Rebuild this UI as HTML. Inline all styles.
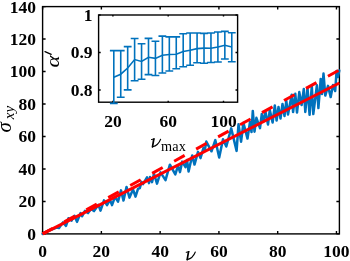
<!DOCTYPE html><html><head><meta charset="utf-8"><style>html,body{margin:0;padding:0;background:#fff;overflow:hidden}svg{display:block;will-change:transform}</style></head><body><svg width="350" height="261" viewBox="0 0 350 261"><rect width="350" height="261" fill="#fff"/><rect x="42.60" y="6.60" width="296.80" height="227.30" fill="none" stroke="#000" stroke-width="1.4"/><path d="M42.60,233.90v-3M42.60,6.60v3M101.37,233.90v-3M101.37,6.60v3M160.14,233.90v-3M160.14,6.60v3M218.92,233.90v-3M218.92,6.60v3M277.69,233.90v-3M277.69,6.60v3M336.46,233.90v-3M336.46,6.60v3M42.60,233.90h3M339.40,233.90h-3M42.60,201.43h3M339.40,201.43h-3M42.60,168.96h3M339.40,168.96h-3M42.60,136.48h3M339.40,136.48h-3M42.60,104.01h3M339.40,104.01h-3M42.60,71.54h3M339.40,71.54h-3M42.60,39.07h3M339.40,39.07h-3M42.60,6.60h3M339.40,6.60h-3" stroke="#000" stroke-width="1.4" fill="none"/><g><polyline points="42.60,233.90 45.00,232.50 48.00,230.70 51.00,229.80 54.00,228.70 56.50,227.50 59.00,228.10 63.00,222.40 66.00,225.90 68.50,218.20 71.50,220.60 74.50,215.80 77.00,221.90 80.50,213.10 82.00,216.30 85.00,210.90 88.00,213.10 91.00,208.90 94.00,211.10 98.40,204.90 100.50,210.60 104.00,200.40 107.00,205.10 110.00,199.90 112.00,205.10 115.00,196.90 118.00,201.60 121.00,190.40 123.50,200.60 126.50,186.90 129.50,197.60 133.00,189.40 135.50,196.60 138.00,188.90 139.80,188.10 141.50,181.90 143.00,184.10 147.00,177.40 149.00,183.10 150.00,176.90 152.00,182.10 154.00,173.90 157.00,183.60 160.50,172.40 165.50,180.10 169.90,164.70 175.30,174.40 178.00,165.90 180.00,172.10 182.20,161.60 185.50,167.10 187.00,159.90 188.60,171.60 192.20,155.40 194.50,164.60 198.00,151.90 200.50,158.10 203.50,147.90 205.00,149.10 206.30,141.60 211.50,151.30 215.30,140.10 219.20,157.50 223.00,139.30 226.30,146.50 231.20,128.40 236.60,150.90 238.50,124.30 241.10,141.70 243.40,122.80 247.50,138.60 250.00,121.90 251.50,132.10 252.80,110.90 254.50,131.70 256.40,117.80 260.00,128.10 261.80,113.90 263.40,121.60 265.50,111.90 268.00,124.60 269.80,109.90 272.60,122.50 274.80,105.50 276.60,120.60 278.50,106.90 280.50,118.60 282.50,103.90 284.50,116.10 286.30,100.90 288.00,114.60 291.70,94.70 293.10,112.10 295.30,93.80 297.00,112.60 299.30,92.10 301.60,105.10 303.80,88.90 305.30,111.90 307.50,88.20 309.60,114.80 311.80,86.00 313.30,114.10 316.90,85.30 318.40,108.10 320.70,78.90 322.00,94.10 323.50,73.50 325.30,95.60 328.00,85.90 330.70,97.10 333.00,84.90 335.20,91.00 336.60,70.90 337.90,77.10 339.30,70.40" fill="none" stroke="#0072BD" stroke-width="2.5" stroke-linejoin="round" stroke-linecap="round"/><line x1="42.6" y1="233.9" x2="339.39860000000004" y2="83.035088" stroke="#FF0000" stroke-width="3"/><line x1="42.6" y1="233.9" x2="339.39860000000004" y2="69.91640000000001" stroke="#FF0000" stroke-width="3" stroke-dasharray="12 13.1" stroke-dashoffset="25.4"/></g><defs><clipPath id="mclip"><rect x="42.6" y="6.596000000000004" width="296.7986" height="227.304"/></clipPath></defs><g font-family="'Liberation Serif', serif" font-weight="bold" font-size="17.5" fill="#000"><text x="35.9" y="239.80" text-anchor="end">0</text><text x="35.9" y="207.33" text-anchor="end">20</text><text x="35.9" y="174.86" text-anchor="end">40</text><text x="35.9" y="142.38" text-anchor="end">60</text><text x="35.9" y="109.91" text-anchor="end">80</text><text x="35.9" y="77.44" text-anchor="end">100</text><text x="35.9" y="44.97" text-anchor="end">120</text><text x="35.9" y="12.50" text-anchor="end">140</text><text x="42.60" y="256.8" text-anchor="middle">0</text><text x="101.37" y="256.8" text-anchor="middle">20</text><text x="160.14" y="256.8" text-anchor="middle">40</text><text x="218.92" y="256.8" text-anchor="middle">60</text><text x="277.69" y="256.8" text-anchor="middle">80</text><text x="336.46" y="256.8" text-anchor="middle">100</text></g><rect x="98.6" y="15.0" width="139.0" height="87.2" fill="#fff"/><rect x="98.6" y="15.0" width="139.0" height="87.2" fill="none" stroke="#000" stroke-width="1.4"/><path d="M112.90,102.2v-1.4M112.90,15.0v1.4M168.20,102.2v-1.4M168.20,15.0v1.4M223.50,102.2v-1.4M223.50,15.0v1.4M98.6,90.00h2.0999999999999996M237.6,90.00h-2.0999999999999996M98.6,52.50h2.0999999999999996M237.6,52.50h-2.0999999999999996M98.6,15.00h2.0999999999999996M237.6,15.00h-2.0999999999999996" stroke="#000" stroke-width="1.4" fill="none"/><g stroke="#0072BD" stroke-width="1.6" fill="none"><path d="M113.80,50.6V103.4M109.90,50.6h7.8M109.90,103.4h7.8M120.74,50.6V97.2M116.84,50.6h7.8M116.84,97.2h7.8M127.68,46.6V89.9M123.78,46.6h7.8M123.78,89.9h7.8M134.62,38.5V80.7M130.72,38.5h7.8M130.72,80.7h7.8M141.56,43.7V79.2M137.66,43.7h7.8M137.66,79.2h7.8M148.50,38.4V74.6M144.60,38.4h7.8M144.60,74.6h7.8M155.44,41.3V75.5M151.54,41.3h7.8M151.54,75.5h7.8M162.38,36.1V73.0M158.48,36.1h7.8M158.48,73.0h7.8M169.32,36.9V71.0M165.42,36.9h7.8M165.42,71.0h7.8M176.26,36.9V68.8M172.36,36.9h7.8M172.36,68.8h7.8M183.20,33.8V66.8M179.30,33.8h7.8M179.30,66.8h7.8M190.14,33.0V65.3M186.24,33.0h7.8M186.24,65.3h7.8M197.08,33.0V62.7M193.18,33.0h7.8M193.18,62.7h7.8M204.02,33.4V63.3M200.12,33.4h7.8M200.12,63.3h7.8M210.96,33.0V62.5M207.06,33.0h7.8M207.06,62.5h7.8M217.90,32.0V62.0M214.00,32.0h7.8M214.00,62.0h7.8M224.84,31.4V59.0M220.94,31.4h7.8M220.94,59.0h7.8M231.78,32.8V61.7M227.88,32.8h7.8M227.88,61.7h7.8"/><polyline points="113.80,77.2 120.74,74.2 127.68,68.0 134.62,59.6 141.56,61.4 148.50,57.3 155.44,58.4 162.38,55.3 169.32,54.5 176.26,54.2 183.20,51.5 190.14,50.2 197.08,48.6 204.02,48.1 210.96,48.2 217.90,47.0 224.84,45.3 231.78,47.0"/></g><g font-family="'Liberation Serif', serif" font-weight="bold" font-size="17.5" fill="#000"><text x="92.6" y="95.50" text-anchor="end">0.8</text><text x="92.6" y="58.00" text-anchor="end">0.9</text><text x="92.6" y="20.50" text-anchor="end">1</text><text x="112.90" y="126.5" font-size="17.5" text-anchor="middle">20</text><text x="168.20" y="126.5" font-size="17.5" text-anchor="middle">60</text><text x="223.50" y="126.5" font-size="17.5" text-anchor="middle">100</text></g><g transform="translate(187.2,259.6)"><g fill="none" stroke="#000" stroke-linecap="round"><path d="M-1,-7.3 L1.9,-7.9" stroke-width="1"/><path d="M1.3,-7.8 L0,0" stroke-width="1.7"/><path d="M0,0 C3,-0.7 6.6,-3.6 8.1,-7.6" stroke-width="1.1"/></g></g><g transform="translate(152.5,146.8)"><g fill="none" stroke="#000" stroke-linecap="round"><path d="M-1,-7.3 L1.9,-7.9" stroke-width="1"/><path d="M1.3,-7.8 L0,0" stroke-width="1.7"/><path d="M0,0 C3,-0.7 6.6,-3.6 8.1,-7.6" stroke-width="1.1"/></g></g><g font-family="'Liberation Serif', serif" fill="#000"><text x="161" y="150.5" font-size="14.3" letter-spacing="0.2">max</text><text transform="translate(11.2,132.5) rotate(-90)" font-size="21" font-style="italic">σ<tspan font-size="15" dy="3" dx="3">xy</tspan></text><text transform="translate(58.6,67.4) rotate(-90) scale(1.15,0.9)" font-size="20" font-style="italic">α</text></g><path d="M45,51.6 L51.2,54.3" stroke="#000" stroke-width="1.3" stroke-linecap="round"/></svg></body></html>
